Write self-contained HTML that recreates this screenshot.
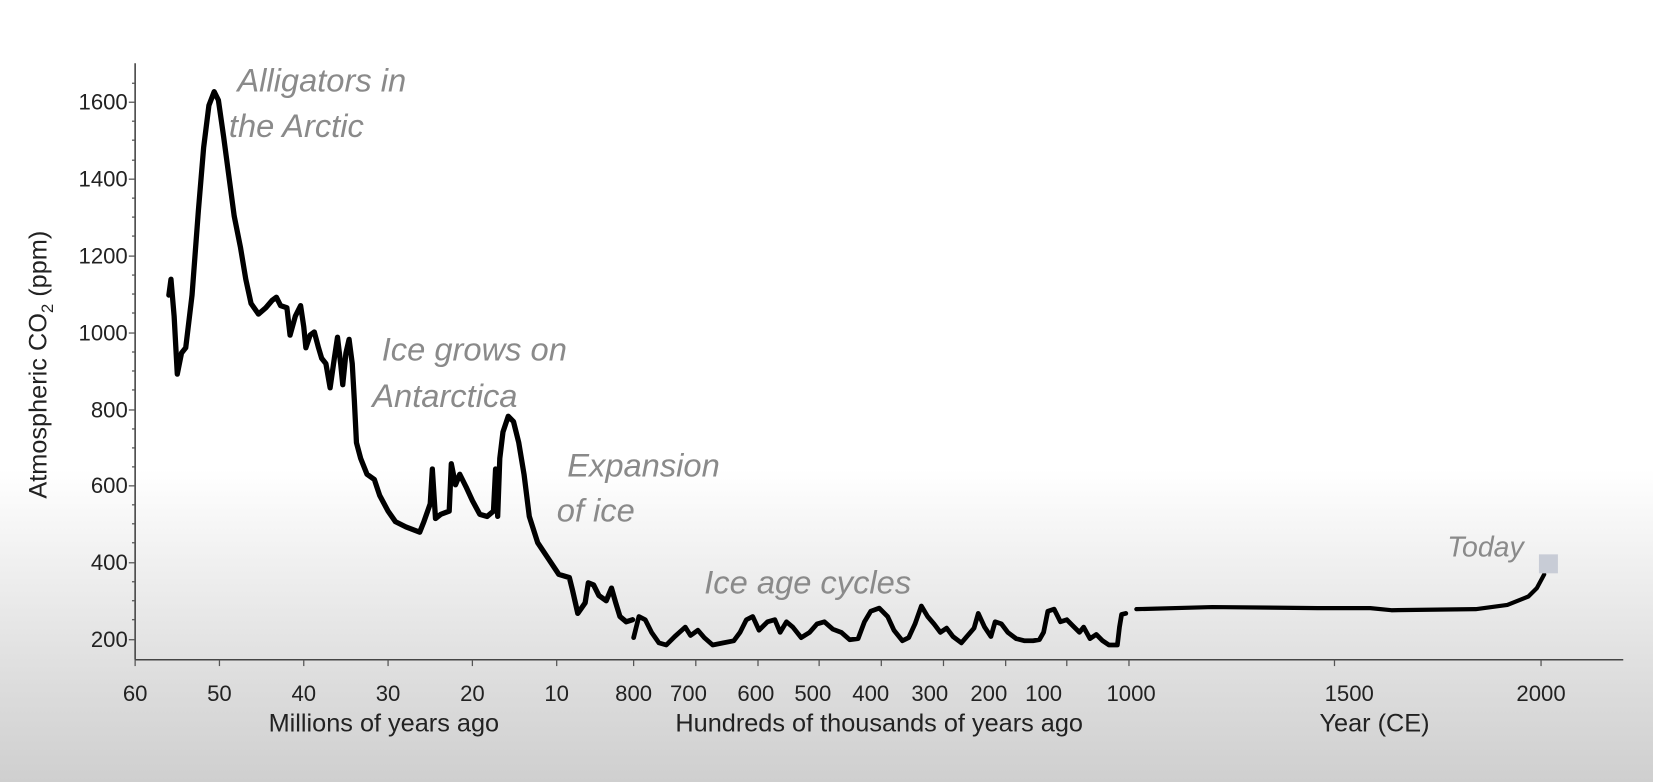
<!DOCTYPE html>
<html><head><meta charset="utf-8"><style>
html,body{margin:0;padding:0;}
body{width:1653px;height:782px;overflow:hidden;background:linear-gradient(to bottom,#ffffff 0%,#ffffff 60%,#f0f0f0 72%,#dcdcdc 88%,#cfcfcf 100%);}
svg{display:block}
text{font-family:"Liberation Sans",sans-serif;}
</style></head><body>
<svg width="1653" height="782" viewBox="0 0 1568 742" xmlns="http://www.w3.org/2000/svg">
<g stroke="#444" stroke-width="1.5" fill="none">
<line x1="128" y1="60" x2="128" y2="626"/>
<line x1="128" y1="626" x2="1540" y2="626"/>
</g>
<g stroke="#555" stroke-width="1.2">
<line x1="122" y1="97" x2="128" y2="97"/><line x1="122" y1="170" x2="128" y2="170"/><line x1="122" y1="243" x2="128" y2="243"/><line x1="122" y1="316" x2="128" y2="316"/><line x1="122" y1="389" x2="128" y2="389"/><line x1="122" y1="461" x2="128" y2="461"/><line x1="122" y1="534" x2="128" y2="534"/><line x1="122" y1="607" x2="128" y2="607"/>
<line x1="125" y1="79" x2="128" y2="79"/><line x1="125" y1="115" x2="128" y2="115"/><line x1="125" y1="133" x2="128" y2="133"/><line x1="125" y1="152" x2="128" y2="152"/><line x1="125" y1="188" x2="128" y2="188"/><line x1="125" y1="206" x2="128" y2="206"/><line x1="125" y1="224" x2="128" y2="224"/><line x1="125" y1="261" x2="128" y2="261"/><line x1="125" y1="279" x2="128" y2="279"/><line x1="125" y1="297" x2="128" y2="297"/><line x1="125" y1="334" x2="128" y2="334"/><line x1="125" y1="352" x2="128" y2="352"/><line x1="125" y1="370" x2="128" y2="370"/><line x1="125" y1="407" x2="128" y2="407"/><line x1="125" y1="425" x2="128" y2="425"/><line x1="125" y1="443" x2="128" y2="443"/><line x1="125" y1="479" x2="128" y2="479"/><line x1="125" y1="497" x2="128" y2="497"/><line x1="125" y1="515" x2="128" y2="515"/><line x1="125" y1="552" x2="128" y2="552"/><line x1="125" y1="570" x2="128" y2="570"/><line x1="125" y1="588" x2="128" y2="588"/>
<line x1="128" y1="626" x2="128" y2="632"/><line x1="208" y1="626" x2="208" y2="632"/><line x1="288" y1="626" x2="288" y2="632"/><line x1="368" y1="626" x2="368" y2="632"/><line x1="448" y1="626" x2="448" y2="632"/><line x1="528" y1="626" x2="528" y2="632"/>
<line x1="601" y1="626" x2="601" y2="632"/><line x1="660" y1="626" x2="660" y2="632"/><line x1="719" y1="626" x2="719" y2="632"/><line x1="777" y1="626" x2="777" y2="632"/><line x1="836" y1="626" x2="836" y2="632"/><line x1="895" y1="626" x2="895" y2="632"/><line x1="954" y1="626" x2="954" y2="632"/><line x1="1012" y1="626" x2="1012" y2="632"/><line x1="1071" y1="626" x2="1071" y2="632"/>
<line x1="1266" y1="626" x2="1266" y2="632"/><line x1="1462" y1="626" x2="1462" y2="632"/>
</g>
<g fill="#222" font-size="21" text-anchor="end">
<text x="121" y="104">1600</text><text x="121" y="177">1400</text><text x="121" y="250">1200</text><text x="121" y="323">1000</text><text x="121" y="396">800</text><text x="121" y="468">600</text><text x="121" y="541">400</text><text x="121" y="614">200</text>
</g>
<g fill="#222" font-size="21" text-anchor="middle">
<text x="128" y="665">60</text><text x="208" y="665">50</text><text x="288" y="665">40</text><text x="368" y="665">30</text><text x="448" y="665">20</text><text x="528" y="665">10</text>
<text x="601" y="665">800</text><text x="653" y="665">700</text><text x="717" y="665">600</text><text x="771" y="665">500</text><text x="826" y="665">400</text><text x="882" y="665">300</text><text x="938" y="665">200</text><text x="990" y="665">100</text><text x="1073" y="665">1000</text><text x="1280" y="665">1500</text><text x="1462" y="665">2000</text>
<text x="364" y="694" font-size="24">Millions of years ago</text>
<text x="834" y="694" font-size="24">Hundreds of thousands of years ago</text>
<text x="1304" y="694" font-size="24">Year (CE)</text>
</g>
<text transform="translate(44,346) rotate(-90)" text-anchor="middle" font-size="24" fill="#222">Atmospheric CO<tspan font-size="16" dy="6">2</tspan><tspan dy="-6"> (ppm)</tspan></text>
<g fill="#8a8a8a" font-size="31" font-style="italic">
<text x="225" y="87">Alligators in</text><text x="217" y="130">the Arctic</text>
<text x="362" y="342">Ice grows on</text><text x="353" y="386">Antarctica</text>
<text x="538" y="452">Expansion</text><text x="528" y="495">of ice</text>
<text x="668" y="563">Ice age cycles</text>
<text x="1373" y="528" font-size="27">Today</text>
</g>
<g fill="none" stroke="#000" stroke-linejoin="round" stroke-linecap="round">
<polyline stroke-width="5" points="160,280 162,265 165,300 168,355 172,335 176,330 182,280 188,200 193,140 198,100 203,87 207,95 212,130 218,175 222,205 228,235 233,265 238,288 245,298 252,292 258,285 262,282 266,290 272,292 275,318 280,300 285,290 288,310 290,330 294,318 298,315 302,330 305,340 309,345 313,368 317,340 320,320 323,345 325,365 328,335 331,322 334,345 336,380 338,420 342,435 348,450 355,455 360,470 368,485 375,495 385,500 398,505 402,495 408,478 410,445 413,492 418,488 426,485 428,440 432,460 436,450 442,462 448,475 455,488 462,490 468,485 470,445 472,490 474,435 477,410 482,395 487,400 492,420 497,450 502,490 510,515 520,530 530,545 540,548 543,560 548,582 555,572 558,553 563,555 568,565 575,570 580,558 584,572 588,585 594,590 600,588"/>
<polyline stroke-width="4.5" points="601,605 606,585 612,588 618,600 625,610 632,612 640,604 650,595 655,603 662,598 668,605 676,612 686,610 696,608 702,600 708,588 714,585 720,598 728,590 735,588 740,600 746,590 752,595 760,605 768,600 775,592 782,590 790,597 798,600 806,607 814,606 820,590 826,580 834,577 842,585 848,598 856,608 862,605 868,592 874,575 880,585 886,592 892,600 898,596 904,604 912,610 918,603 924,596 928,582 934,595 940,604 944,590 950,592 956,600 964,606 972,608 980,608 986,607 990,600 994,580 1000,578 1006,590 1012,588 1018,594 1024,600 1028,595 1034,606 1040,602 1046,608 1052,612 1060,612 1062,595 1064,583 1068,582"/>
<polyline stroke-width="4" points="1078,578 1150,576 1250,577 1300,577 1320,579 1400,578 1430,574 1450,566 1458,558 1465,545"/>
</g>
<rect x="1460" y="526" width="18" height="18" fill="#c8ccd6"/>
</svg>
</body></html>
